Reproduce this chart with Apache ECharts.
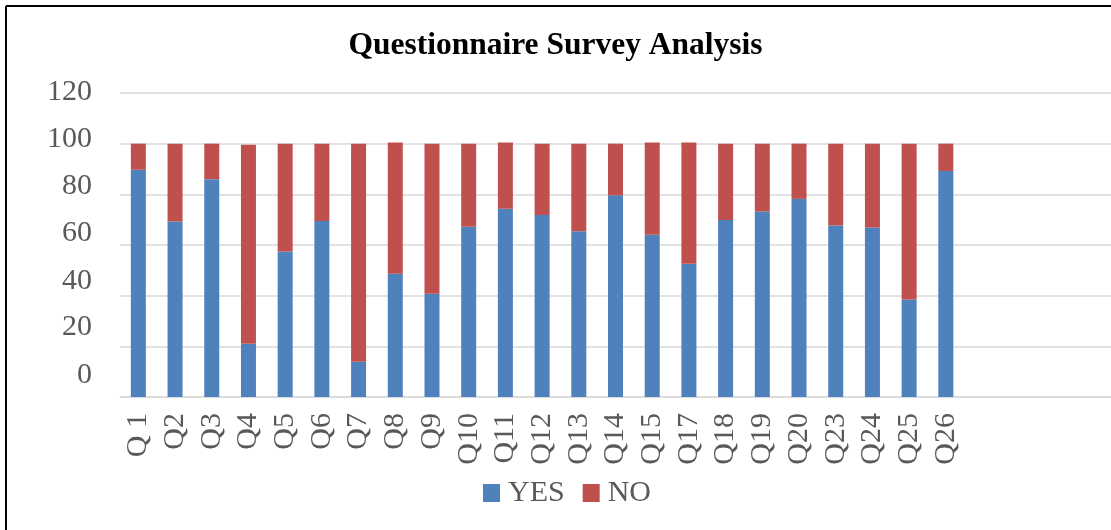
<!DOCTYPE html>
<html>
<head>
<meta charset="utf-8">
<script src="https://cdn.jsdelivr.net/npm/echarts@6/dist/echarts.min.js"></script>
<style>
  html, body { margin: 0; padding: 0; background: #fff; }
</style>
</head>
<body>
<div id="main" style="width: 1111px; height: 530px"></div>
<script>
// questions (the last slots are empty in the original sheet)
var questions = ["Q 1", "Q2", "Q3", "Q4", "Q5", "Q6", "Q7", "Q8", "Q9", "Q10", "Q11", "Q12",
  "Q13", "Q14", "Q15", "Q17", "Q18", "Q19", "Q20", "Q23", "Q24", "Q25", "Q26", "", "", "", ""];
var yesValues = [89.7, 69.3, 86, 21, 57.4, 69.5, 13.9, 48.7, 40.8, 67.2, 74.3, 71.8,
  65.4, 79.6, 64, 52.6, 69.9, 73.2, 78.2, 67.7, 66.9, 38.5, 89.2];
var noValues = [10.3, 30.7, 14, 78.6, 42.6, 30.5, 86.1, 51.8, 59.2, 32.8, 26.2, 28.2,
  34.6, 20.4, 36.5, 47.9, 30.1, 26.8, 21.8, 32.3, 33.1, 61.5, 10.8];
var yTicks = [0, 20, 40, 60, 80, 100, 120];

var chartDom = document.getElementById("main");
var myChart = echarts.init(chartDom);
var serif = "'Liberation Serif', 'Times New Roman', serif";
var option;
option = {
  animation: false,
  textStyle: { fontFamily: serif },
  title: {
    text: "Questionnaire Survey Analysis",
    left: "center",
    top: 25,
    textStyle: { fontFamily: serif, fontSize: 31.5, fontWeight: "bold", color: "#000" },
  },
  graphic: [
    { type: "line", shape: { x1: 6, y1: 6, x2: 1111, y2: 6 }, style: { stroke: "#000", lineWidth: 2 } },
    { type: "line", shape: { x1: 6, y1: 6, x2: 6, y2: 530 }, style: { stroke: "#000", lineWidth: 2 } },
  ],
  legend: {
    data: ["YES", "NO"],
    bottom: 17,
    left: 478,
    itemWidth: 17,
    itemHeight: 18,
    itemGap: 18,
    icon: "rect",
    textStyle: { fontFamily: serif, fontSize: 30, color: "#595959", padding: [0, 0, 0, 3] },
  },
  grid: { left: 120, right: 0, top: 93, bottom: 133 },
  xAxis: {
    type: "category",
    data: questions,
    axisTick: { show: false },
    axisLine: { lineStyle: { color: "#d9d9d9", width: 1.5 } },
    axisLabel: {
      rotate: 90,
      interval: 0,
      margin: 16,
      fontFamily: serif,
      fontSize: 30,
      color: "#595959",
    },
  },
  yAxis: {
    type: "value",
    min: yTicks[0],
    max: yTicks[yTicks.length - 1],
    interval: 20,
    axisLine: { show: false },
    axisTick: { show: false },
    splitLine: { lineStyle: { color: "#d9d9d9", width: 1.5 } },
    axisLabel: {
      margin: 28,
      fontFamily: serif,
      fontSize: 30,
      color: "#595959",
      // labels in the source creep upward as the value falls
      formatter: function (v) {
        var k = "t" + v;
        return "{" + k + "|" + v + "}";
      },
      rich: (function () {
        var r = {};
        yTicks.forEach(function (v) {
          var shift = Math.round(1 + (120 - v) * 0.175);
          r["t" + v] = { fontFamily: serif, fontSize: 30, color: "#595959", padding: [0, 0, shift * 2, 0] };
        });
        return r;
      })(),
    },
  },
  series: [
    {
      name: "YES",
      type: "bar",
      stack: "total",
      barWidth: 15,
      itemStyle: { color: "#4f81bd" },
      data: yesValues,
    },
    {
      name: "NO",
      type: "bar",
      stack: "total",
      barWidth: 15,
      itemStyle: { color: "#c0504d" },
      data: noValues,
    },
  ],
};
myChart.setOption(option);
</script>
</body>
</html>
